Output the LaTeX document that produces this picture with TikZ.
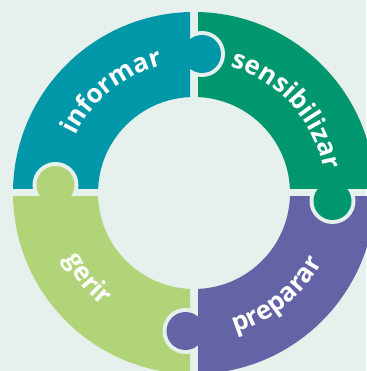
\documentclass[tikz,border=0pt]{standalone}
\usepackage{fontspec}
\setmainfont{Open Sans}
\usetikzlibrary{decorations.text}
\definecolor{bg}{HTML}{E6F0EC}
\definecolor{cinf}{HTML}{0098A8}
\definecolor{csen}{HTML}{00976F}
\definecolor{cpre}{HTML}{6363A6}
\definecolor{cger}{HTML}{B1D479}
\newcommand{\lblfont}{\color{white}\bfseries\fontsize{26}{26}\selectfont}
\begin{document}
\begin{tikzpicture}[x=1pt,y=1pt,
  ring/.style={even odd rule},
  lbl/.style={decorate, decoration={text along path, text align=center, text={|\lblfont|#1}}}]
\fill[bg] (-194,-178) rectangle (172,193);
\useasboundingbox (-194,-178) rectangle (172,193);
% quadrants
\begin{scope}\clip (-4,4) rectangle (-190,190);
  \fill[cinf,ring] (0,0) circle[radius=181] (0,0) circle[radius=96];\end{scope}
\begin{scope}\clip (4,4) rectangle (190,190);
  \fill[csen,ring] (0,0) circle[radius=181] (0,0) circle[radius=96];\end{scope}
\begin{scope}\clip (4,-4) rectangle (190,-190);
  \fill[cpre,ring] (0,0) circle[radius=181] (0,0) circle[radius=96];\end{scope}
\begin{scope}\clip (-4,-4) rectangle (-190,-190);
  \fill[cger,ring] (0,0) circle[radius=181] (0,0) circle[radius=96];\end{scope}
% knob top (informar)
\begin{scope}\clip (0,100) rectangle (40,180); \fill[bg] (8,139) circle[radius=23];\end{scope}
\fill[cinf] (8,139) circle[radius=19];
\fill[cinf] (-5,125) rectangle (8,153);
% knob right (sensibilizar)
\begin{scope}\clip (100,0) rectangle (180,-40); \fill[bg] (138.5,-8) circle[radius=23];\end{scope}
\fill[csen] (138.5,-8) circle[radius=19];
\fill[csen] (124.5,5) rectangle (152.5,-8);
% knob left (gerir)
\begin{scope}\clip (-180,0) rectangle (-100,40); \fill[bg] (-138.5,8) circle[radius=23];\end{scope}
\fill[cger] (-138.5,8) circle[radius=19];
\fill[cger] (-152.5,-5) rectangle (-124.5,8);
% knob bottom (preparar)
\begin{scope}\clip (-40,-100) rectangle (0,-180); \fill[bg] (-8.5,-138) circle[radius=23];\end{scope}
\fill[cpre] (-8.5,-138) circle[radius=19];
\fill[cpre] (-8.5,-152) rectangle (5,-124);
% labels
\path[lbl={informar}] (169:131.5) arc[start angle=169, end angle=89, radius=131.5];
\path[lbl={sensibilizar}] (102:131.5) arc[start angle=102, end angle=-18, radius=131.5];
\path[lbl={gerir}] (179:145.5) arc[start angle=179, end angle=259, radius=145.5];
\path[lbl={preparar}] (269:145.5) arc[start angle=269, end angle=349, radius=145.5];
\end{tikzpicture}
\end{document}
